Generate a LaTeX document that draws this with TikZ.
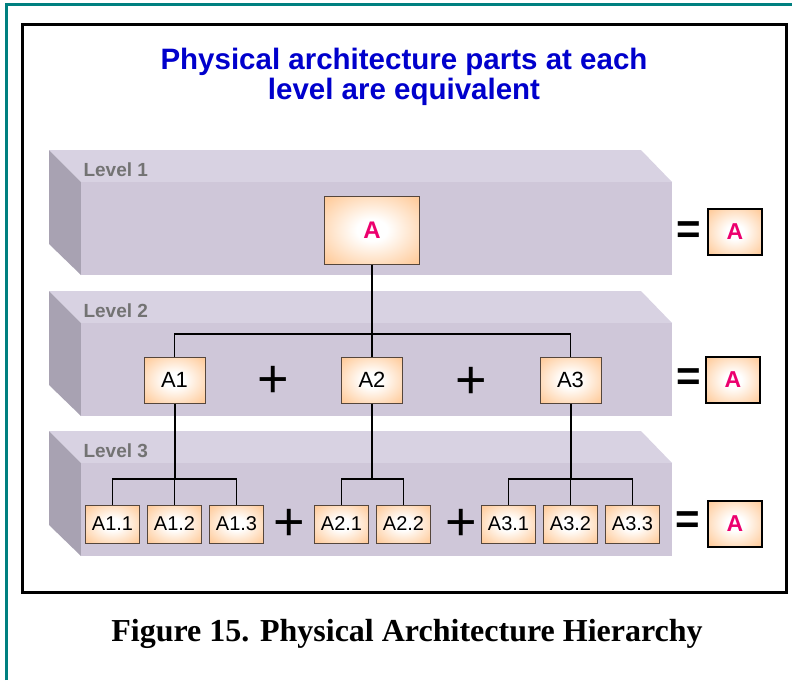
\documentclass[tikz,border=0pt]{standalone}
\usepackage{fontspec}
\setmainfont{Liberation Sans}
\newfontfamily\capfont{Liberation Serif}
\usetikzlibrary{positioning}
\definecolor{slabtop}{RGB}{216,210,226}
\definecolor{slabfront}{RGB}{207,199,217}
\definecolor{slabside}{RGB}{168,162,178}
\definecolor{peach}{RGB}{255,198,145}
\definecolor{partline}{RGB}{85,70,60}
\definecolor{titleblue}{RGB}{0,0,204}
\definecolor{hotpink}{RGB}{236,0,110}
\definecolor{frameteal}{RGB}{0,128,128}
\pgfdeclareradialshading{glow}{\pgfpoint{0bp}{0bp}}{color(0bp)=(white); color(8bp)=(white); color(36bp)=(peach); color(60bp)=(peach)}
\tikzset{part/.style={draw=partline, line width=1pt, shading=glow, inner sep=0pt, font=\fontsize{20}{20}\selectfont},
  bigpart/.style={part, minimum width=95pt, minimum height=68pt, text=hotpink, font=\bfseries\fontsize{24}{24}\selectfont},
  midpart/.style={part, minimum width=61pt, minimum height=46pt, font=\fontsize{22}{22}\selectfont},
  leafpart/.style={part, minimum width=54pt, minimum height=38pt},
  total/.style={part, draw=black, line width=2pt, minimum width=54pt, minimum height=46pt, text=hotpink, font=\bfseries\fontsize{23}{23}\selectfont},
  lvl/.style={anchor=west, text=black!55, font=\bfseries\fontsize{19}{19}\selectfont},
  plus/.style={font=\fontsize{54}{54}\selectfont},
  equals/.style={font=\bfseries\fontsize{42}{42}\selectfont},
  trunk/.style={line width=2pt},
  branch/.style={line width=1.4pt}}

\begin{document}
\begin{tikzpicture}[x=1pt, y=-1pt]
\useasboundingbox (0,0) rectangle (792,680);
\draw[frameteal, line width=3pt] (6,680) -- (6,4) -- (792,4);
\draw[line width=3pt] (22,24) rectangle (786,592);
\node[font=\bfseries\fontsize{29.5}{30}\selectfont, text=titleblue, align=center] (title) at (404,77) {Physical architecture parts at each\\level are equivalent};
\foreach \y/\lab in {150/1, 291/2, 431/3} {
  \fill[slabtop] (49,\y) -- (641,\y) -- (672,\y+32) -- (81,\y+32) -- cycle;
  \fill[slabside] (49,\y) -- (81,\y+32) -- (81,\y+125) -- (49,\y+94) -- cycle;
  \fill[slabfront] (81,\y+32) rectangle (672,\y+125);
  \node[lvl] (lvl\lab) at (80,\y+20) {Level \lab};
}
\node[bigpart] (a) at (372,230) {A};
\node[midpart] (a1) at (174.5,380) {A1};
\node[midpart] (a2) at (372,380) {A2};
\node[midpart] (a3) at (570.5,380) {A3};
\node[leafpart] (a12) at (174.5,524) {A1.2};
\node[leafpart, left=7pt of a12] (a11) {A1.1};
\node[leafpart, right=7pt of a12] (a13) {A1.3};
\node[leafpart] (a21) at (341.5,524) {A2.1};
\node[leafpart, right=7pt of a21] (a22) {A2.2};
\node[leafpart] (a32) at (570.5,524) {A3.2};
\node[leafpart, left=7pt of a32] (a31) {A3.1};
\node[leafpart, right=7pt of a32] (a33) {A3.3};
\node[plus] (plus1) at (273,382) {+};
\node[plus] (plus2) at (471,383) {+};
\node[plus] (plus3) at (289,525) {+};
\node[plus] (plus4) at (461,525) {+};
\node[equals] (eq1) at (689,233) {=};
\node[equals] (eq2) at (689,380) {=};
\node[equals] (eq3) at (688,523) {=};
\node[total] (tot1) at (735,232) {A};
\node[total] (tot2) at (733,380) {A};
\node[total] (tot3) at (735,523.5) {A};
\coordinate (bus1) at (372,334);
\coordinate (b1) at (174.5,479);
\coordinate (b2) at (372,479);
\coordinate (b3) at (570.5,479);
\draw[trunk] (a) -- (bus1);
\draw[branch] (a1) |- (bus1) -| (a3);
\draw[branch] (bus1) -- (a2);
\draw[trunk] (a1) -- (b1);
\draw[trunk] (a2) -- (b2);
\draw[trunk] (a3) -- (b3);
\draw[branch] (a11) |- (b1) -| (a13);
\draw[branch] (b1) -- (a12);
\draw[branch] (a21) |- (b2) -| (a22);
\draw[branch] (a31) |- (b3) -| (a33);
\draw[branch] (b3) -- (a32);
\node[font=\capfont\bfseries\fontsize{32}{32}\selectfont] (caption) at (407,634) {Figure 15. Physical Architecture Hierarchy};
\end{tikzpicture}
\end{document}
